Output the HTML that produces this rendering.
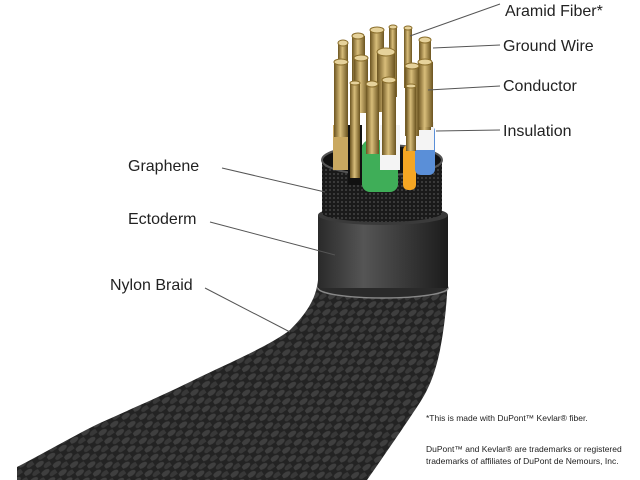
<!DOCTYPE html>
<html><head><style>
body{margin:0;background:#fff;width:640px;height:480px;overflow:hidden}
svg{display:block}
text{font-family:"Liberation Sans",sans-serif;fill:#222}
</style></head><body>
<svg width="640" height="480" viewBox="0 0 640 480">
<defs>
<pattern id="br" width="14" height="10" patternUnits="userSpaceOnUse" patternTransform="rotate(-35)">
<rect width="14" height="10" fill="#232323"/>
<ellipse cx="4" cy="3" rx="5" ry="2.5" fill="#3f3f3f"/>
<ellipse cx="11" cy="8" rx="5" ry="2.5" fill="#383838"/>
</pattern>
<pattern id="mesh" width="4" height="4" patternUnits="userSpaceOnUse">
<rect width="4" height="4" fill="#1a1a1a"/><circle cx="2" cy="2" r="1" fill="#444"/>
</pattern>
<linearGradient id="cyl" x1="0" x2="1">
<stop offset="0" stop-color="#2a2a2a"/><stop offset="0.35" stop-color="#555"/><stop offset="1" stop-color="#1c1c1c"/>
</linearGradient>
<linearGradient id="gold" x1="0" x2="1">
<stop offset="0" stop-color="#6b5420"/><stop offset="0.45" stop-color="#d8bd7a"/><stop offset="1" stop-color="#6b5420"/>
</linearGradient>
</defs>
<!-- braid -->
<path d="M318,262 L448,262 C448,300 444,330 440,350 C434,380 425,395 417,407 C405,425 395,440 367,480 L17,480 L17,467 C50,450 75,435 100,423 C140,405 170,392 200,377 C240,358 270,345 290,330 C305,315 316,300 318,280 Z" fill="url(#br)"/>
<!-- ectoderm -->
<ellipse cx="383" cy="288" rx="65" ry="10" fill="#2a2a2a" stroke="#888" stroke-width="1.5"/>
<rect x="318" y="215" width="130" height="73" fill="url(#cyl)"/>
<ellipse cx="383" cy="215" rx="65" ry="10" fill="#3a3a3a"/>
<!-- mesh -->
<rect x="322" y="160" width="120" height="55" fill="url(#mesh)"/>
<ellipse cx="382" cy="213" rx="60" ry="9" fill="url(#mesh)"/>
<!-- inside -->
<ellipse cx="382" cy="160" rx="60" ry="15" fill="#111" stroke="#555" stroke-width="2"/>
<!-- insulation -->
<rect x="333" y="125" width="16" height="45" fill="#c9a860"/>
<rect x="348" y="125" width="14" height="60" fill="#111"/>
<rect x="362" y="140" width="36" height="52" rx="8" fill="#3fae58"/>
<rect x="380" y="125" width="20" height="45" fill="#f4f4f4"/>
<rect x="403" y="145" width="13" height="45" rx="5" fill="#f5a623"/>
<rect x="415" y="125" width="20" height="50" rx="6" fill="#5a8fd8"/>
<rect x="416" y="122" width="18" height="28" fill="#f4f4f4"/>
<!-- conductors -->
<g fill="url(#gold)">
<rect x="338" y="43" width="10" height="90"/>
<rect x="352" y="36" width="13" height="70"/>
<rect x="370" y="30" width="14" height="80"/>
<rect x="389" y="27" width="8" height="70"/>
<rect x="404" y="28" width="8" height="60"/>
<rect x="419" y="40" width="12" height="90"/>
<rect x="334" y="62" width="14" height="75"/>
<rect x="354" y="58" width="14" height="55"/>
<rect x="377" y="52" width="18" height="60"/>
<rect x="405" y="66" width="14" height="70"/>
<rect x="418" y="62" width="15" height="65"/>
<rect x="350" y="83" width="10" height="95"/>
<rect x="366" y="84" width="13" height="70"/>
<rect x="382" y="80" width="14" height="75"/>
<rect x="406" y="86" width="10" height="65"/>
</g>
<g fill="#e6d29b" stroke="#8a6e2c" stroke-width="1">
<ellipse cx="343" cy="43" rx="5" ry="3"/><ellipse cx="358" cy="36" rx="6" ry="3"/>
<ellipse cx="377" cy="30" rx="7" ry="3"/><ellipse cx="393" cy="27" rx="4" ry="2"/>
<ellipse cx="408" cy="28" rx="4" ry="2"/><ellipse cx="425" cy="40" rx="6" ry="3"/>
<ellipse cx="341" cy="62" rx="7" ry="3"/><ellipse cx="361" cy="58" rx="7" ry="3"/>
<ellipse cx="386" cy="52" rx="9" ry="4"/><ellipse cx="412" cy="66" rx="7" ry="3"/>
<ellipse cx="425" cy="62" rx="7" ry="3"/><ellipse cx="355" cy="83" rx="5" ry="2"/>
<ellipse cx="372" cy="84" rx="6" ry="3"/><ellipse cx="389" cy="80" rx="7" ry="3"/>
<ellipse cx="411" cy="86" rx="5" ry="2"/>
</g>
<!-- leader lines -->
<g stroke="#555" stroke-width="1" fill="none">
<line x1="410" y1="36" x2="500" y2="4"/>
<line x1="433" y1="48" x2="500" y2="45"/>
<line x1="428" y1="90" x2="500" y2="86"/>
<line x1="436" y1="131" x2="500" y2="130"/>
<line x1="222" y1="168" x2="325" y2="192"/>
<line x1="210" y1="222" x2="335" y2="255"/>
<line x1="205" y1="288" x2="290" y2="332"/>
</g>
<g font-size="16">
<text x="505" y="16">Aramid Fiber*</text>
<text x="503" y="51">Ground Wire</text>
<text x="503" y="91">Conductor</text>
<text x="503" y="136">Insulation</text>
<text x="128" y="171">Graphene</text>
<text x="128" y="224">Ectoderm</text>
<text x="110" y="290">Nylon Braid</text>
</g>
<g font-size="8.5">
<text x="426" y="421">*This is made with DuPont™ Kevlar® fiber.</text>
<text x="426" y="452">DuPont™ and Kevlar® are trademarks or registered</text>
<text x="426" y="464">trademarks of affiliates of DuPont de Nemours, Inc.</text>
</g>
</svg>
</body></html>
